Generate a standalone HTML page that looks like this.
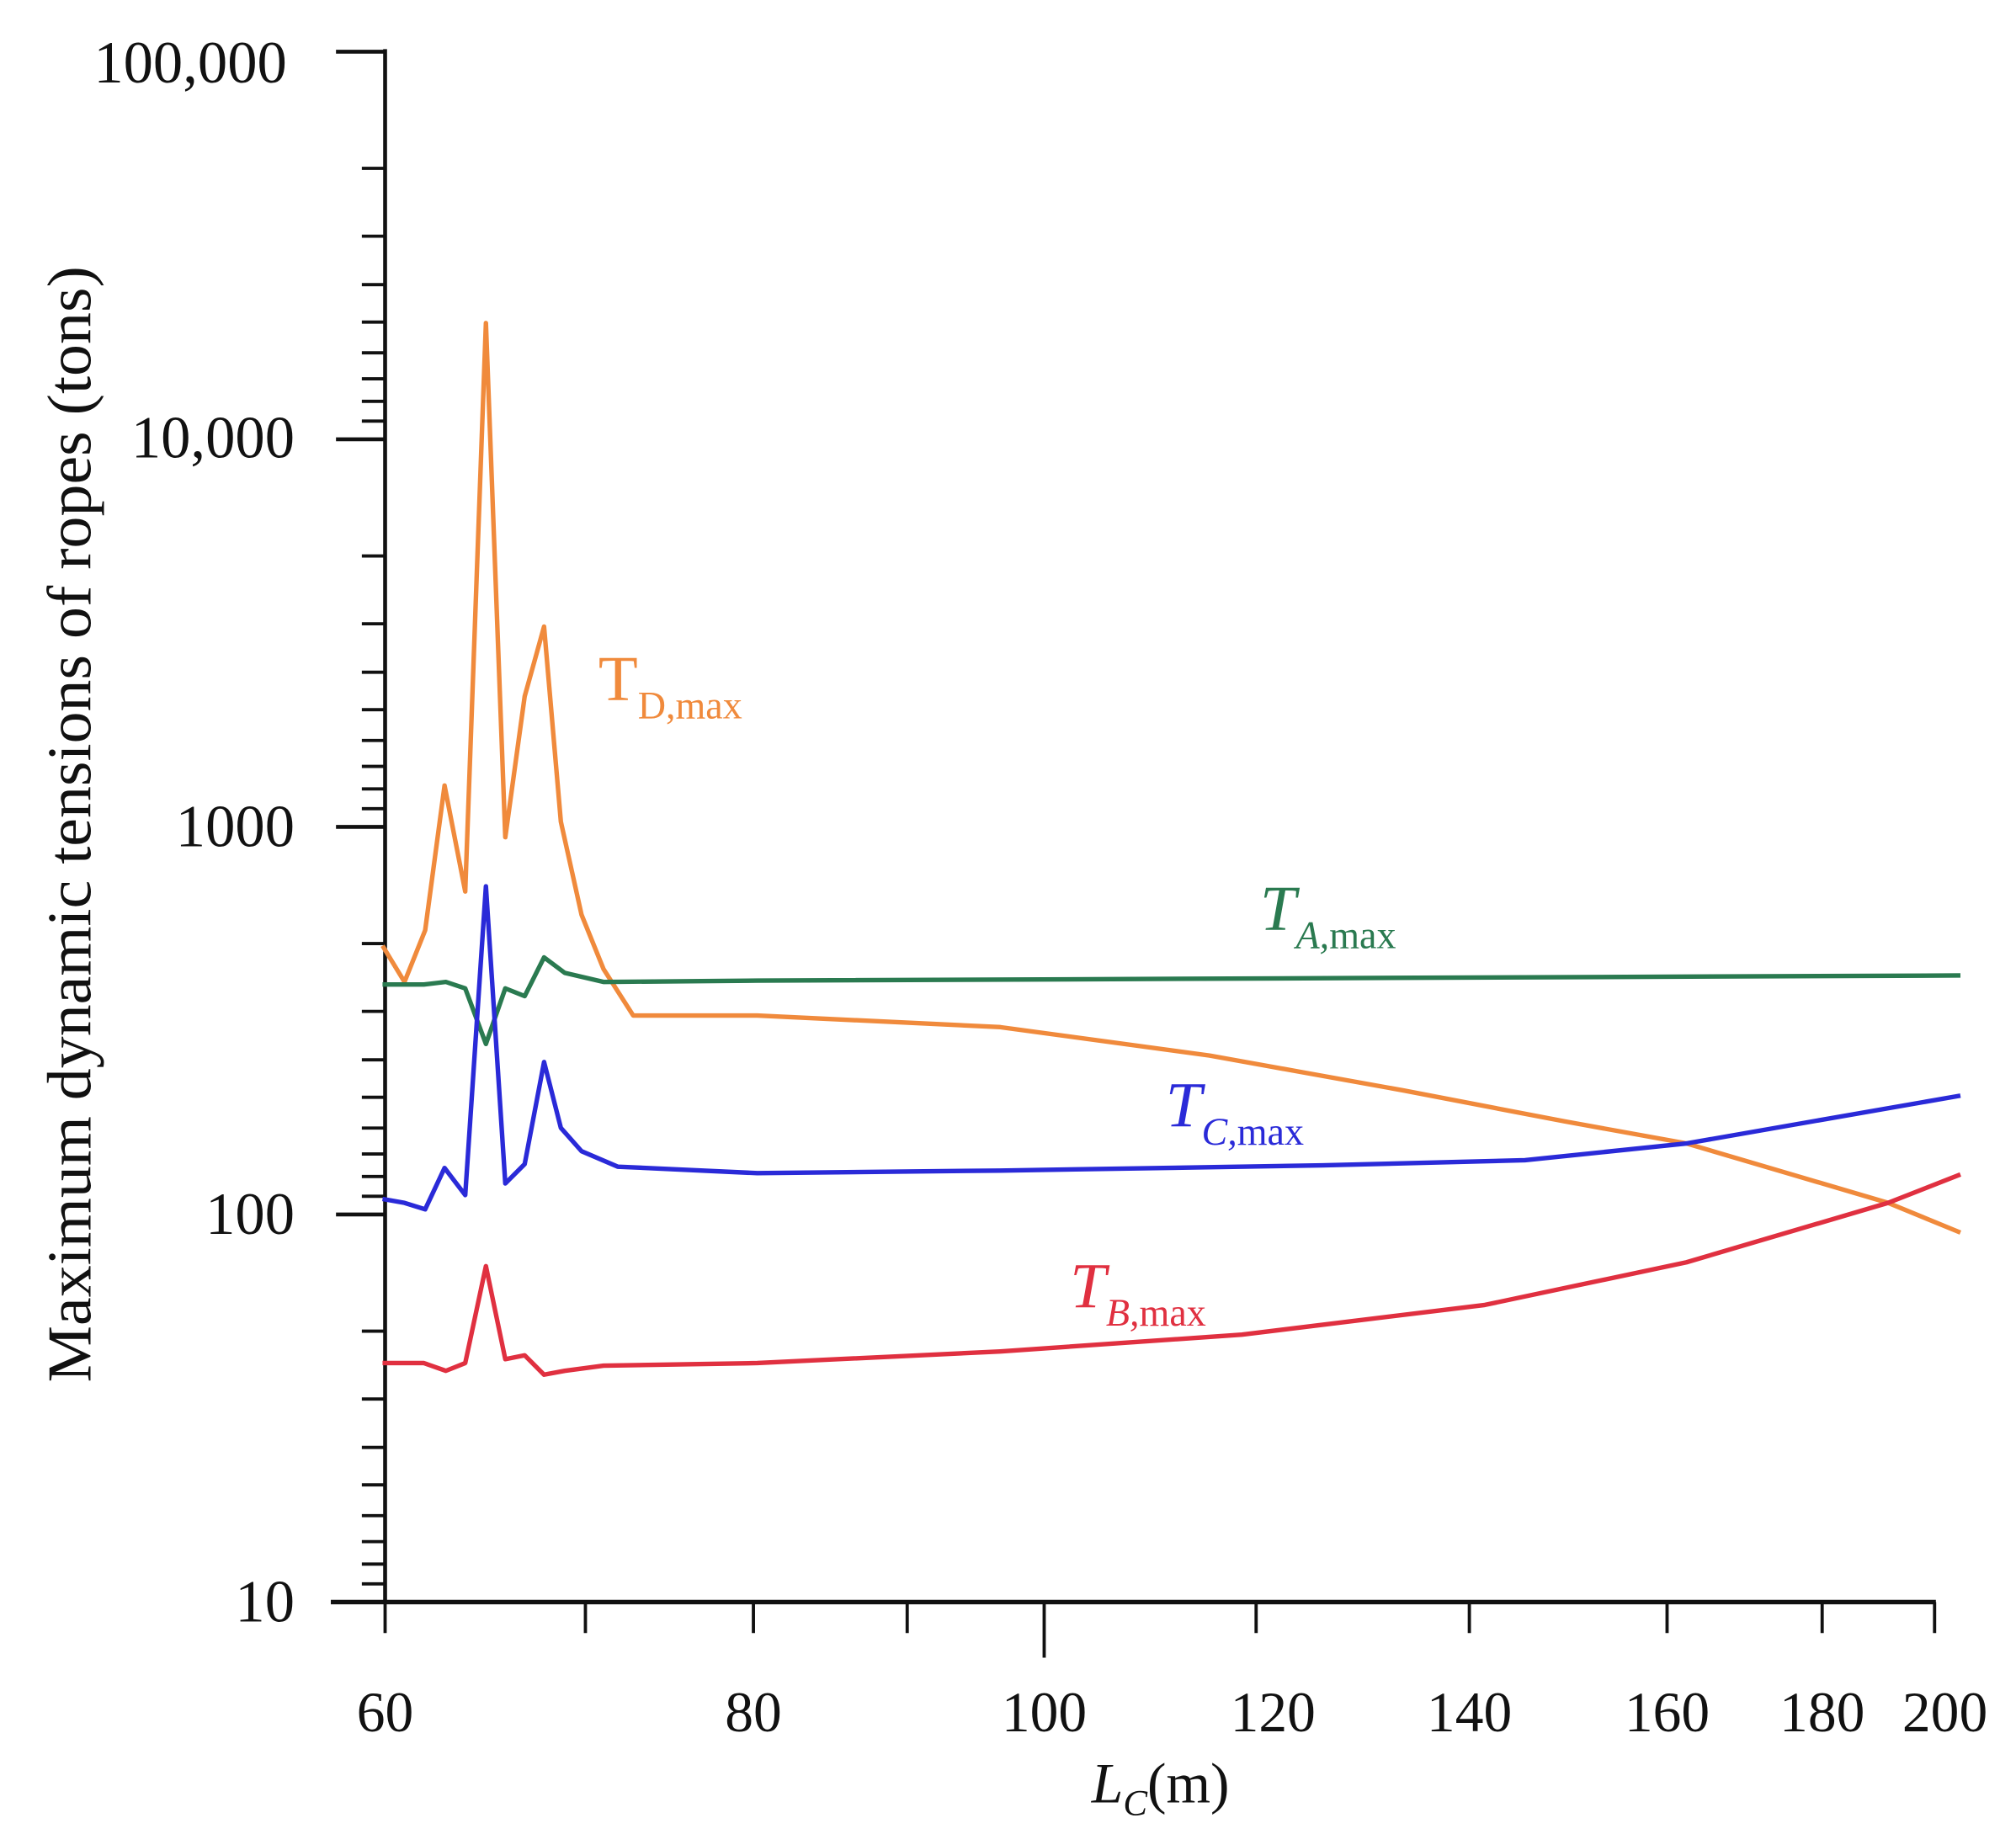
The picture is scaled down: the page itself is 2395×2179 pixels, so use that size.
<!DOCTYPE html>
<html><head><meta charset="utf-8"><style>html,body{margin:0;padding:0;background:#fff}svg{display:block}</style></head>
<body>
<svg width="2395" height="2179" viewBox="0 0 1560 1419.5" preserveAspectRatio="none" xmlns="http://www.w3.org/2000/svg" font-family="Liberation Serif, serif">
<g stroke="#111" fill="none">
<line x1="298" y1="38" x2="298" y2="1241" stroke-width="3"/>
<line x1="256" y1="1240" x2="1498" y2="1240" stroke-width="3.5"/>
<path d="M260 40H298M260 340H298M260 640H298M260 940H298M260 1240H298" stroke-width="3"/>
<path stroke-width="2.5" d="
M280 130.3H298M280 182.8H298M280 220.3H298M280 249.3H298M280 273.1H298M280 293.2H298M280 310.6H298M280 325.9H298
M280 430.3H298M280 482.8H298M280 520.3H298M280 549.3H298M280 573.1H298M280 593.2H298M280 610.6H298M280 625.9H298
M280 730.3H298M280 782.8H298M280 820.3H298M280 849.3H298M280 873.1H298M280 893.2H298M280 910.6H298M280 925.9H298
M280 1030.3H298M280 1082.8H298M280 1120.3H298M280 1149.3H298M280 1173.1H298M280 1193.2H298M280 1210.6H298M280 1225.9H298"/>
<path stroke-width="2.5" d="M298 1240V1264M453 1240V1264M583 1240V1264M702 1240V1264M808 1240V1283M972 1240V1264M1137 1240V1264M1290 1240V1264M1410 1240V1264M1497 1240V1264"/>
</g>
<g font-size="46" fill="#111" text-anchor="end">
<text x="222" y="64">100,000</text>
<text x="228" y="354">10,000</text>
<text x="228" y="655">1000</text>
<text x="228" y="955">100</text>
<text x="228" y="1255">10</text>
</g>
<g font-size="44" fill="#111" text-anchor="middle">
<text x="298" y="1340">60</text>
<text x="583" y="1340">80</text>
<text x="808" y="1340">100</text>
<text x="985" y="1340">120</text>
<text x="1137" y="1340">140</text>
<text x="1290" y="1340">160</text>
<text x="1410" y="1340">180</text>
<text x="1505" y="1340">200</text>
</g>
<text x="898" y="1395" font-size="44" text-anchor="middle" fill="#111"><tspan font-style="italic">L</tspan><tspan font-size="28" dy="10" font-style="italic">C</tspan><tspan dy="-10">(m)</tspan></text>
<text transform="translate(70,638) rotate(-90)" font-size="48" text-anchor="middle" fill="#111" textLength="864" lengthAdjust="spacingAndGlyphs">Maximum dynamic tensions of ropes (tons)</text>
<g fill="none" stroke-width="3.5" stroke-linejoin="round">
<polyline stroke="#f08a3c" points="296,732 313,760 329,720 344,608 360,690 376,250 391,648 406,539 421,485 434,636 450,708 467,750 490,786 586,786 774,795 936,817 1086,844 1211,868 1305,885 1461,931 1517,954"/>
<polyline stroke="#2a7a50" points="296,762 328,762 345,760 360,765 376,808 391,765 406,771 421,741 437,753 467,760 586,759 1517,755"/>
<polyline stroke="#2a2ad8" points="296,928 313,931 329,936 344,904 360,925 376,686 391,916 406,901 421,822 434,873 450,891 478,903 586,908 774,906 1023,902 1180,898 1305,885 1517,848"/>
<polyline stroke="#e03040" points="296,1055 328,1055 345,1061 360,1055 376,980 391,1052 406,1049 421,1064 437,1061 467,1057 586,1055 774,1046 961,1033 1149,1010 1305,977 1461,931 1517,909"/>
</g>
<text x="463" y="542" font-size="50" fill="#f08a3c">T<tspan font-size="30" dy="14">D,max</tspan></text>
<text x="975" y="720" font-size="50" fill="#2a7a50" font-style="italic">T<tspan font-size="30" dy="14" font-style="italic">A,</tspan><tspan font-size="30" font-style="normal">max</tspan></text>
<text x="902" y="872" font-size="50" fill="#2a2ad8" font-style="italic">T<tspan font-size="30" dy="14" font-style="italic">C,</tspan><tspan font-size="30" font-style="normal">max</tspan></text>
<text x="828" y="1012" font-size="50" fill="#e03040" font-style="italic">T<tspan font-size="30" dy="14" font-style="italic">B,</tspan><tspan font-size="30" font-style="normal">max</tspan></text>
</svg>
</body></html>
